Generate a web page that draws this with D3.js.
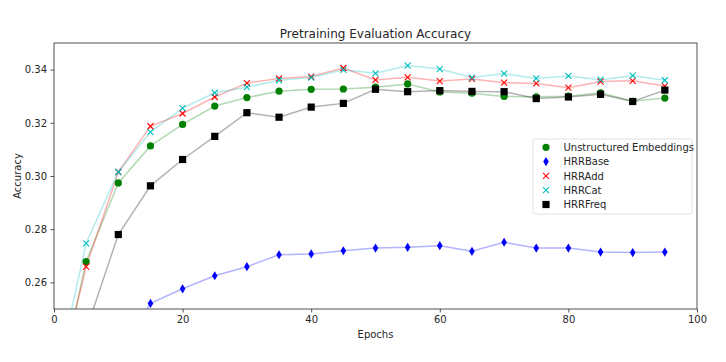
<!DOCTYPE html>
<html>
<head>
<meta charset="utf-8">
<script src="https://cdn.jsdelivr.net/npm/d3@7"></script>
<style>
  body { margin: 0; background: #fff; }
  text { font-family: "DejaVu Sans", sans-serif; fill: #262626; }
</style>
</head>
<body>
<svg id="chart" width="726" height="362"></svg>
<script>
// epochs (0 is below the visible range for every series)
var epochs = [0, 5, 10, 15, 20, 25, 30, 35, 40, 45, 50, 55, 60, 65, 70, 75, 80, 85, 90, 95];

var unstructured = [0.213, 0.2678, 0.2974, 0.3113, 0.3194, 0.3263, 0.3295, 0.3319, 0.3326, 0.3327,
                    0.3334, 0.3346, 0.3316, 0.3311, 0.3299, 0.3298, 0.3300, 0.3313, 0.3281, 0.3293];
var hrrBase = [0.195, 0.212, 0.232, 0.2521, 0.2576, 0.2625, 0.2659, 0.2704, 0.2707, 0.2719,
               0.2729, 0.2732, 0.2738, 0.2717, 0.2751, 0.2729, 0.2729, 0.2714, 0.2712, 0.2714];
var hrrAdd = [0.216, 0.2659, 0.3015, 0.3187, 0.3235, 0.3297, 0.3349, 0.3367, 0.3374, 0.3406,
              0.3361, 0.3371, 0.3357, 0.3365, 0.3351, 0.3348, 0.3332, 0.3355, 0.3358, 0.3338];
var hrrCat = [0.220, 0.2747, 0.3015, 0.3165, 0.3255, 0.3313, 0.3334, 0.3360, 0.3370, 0.3399,
              0.3386, 0.3415, 0.3402, 0.3370, 0.3385, 0.3367, 0.3376, 0.3362, 0.3377, 0.3360];
var hrrFreq = [0.205, 0.242, 0.2780, 0.2963, 0.3062, 0.3149, 0.3238, 0.3221, 0.3259, 0.3273,
               0.3326, 0.3317, 0.3321, 0.3318, 0.3317, 0.3291, 0.3297, 0.3307, 0.3280, 0.3323];

var xTicks = [0, 20, 40, 60, 80, 100];
var yTicks = [0.26, 0.28, 0.30, 0.32, 0.34];

var series = [
  {name: "Unstructured Embeddings", values: unstructured, color: "green", marker: "circle"},
  {name: "HRRBase", values: hrrBase, color: "blue", marker: "diamond"},
  {name: "HRRAdd", values: hrrAdd, color: "red", marker: "x"},
  {name: "HRRCat", values: hrrCat, color: "#00bfbf", marker: "x"},
  {name: "HRRFreq", values: hrrFreq, color: "black", marker: "square"}
];

var svg = d3.select("#chart");
var margin = {left: 54, right: 29, top: 43, bottom: 53};
var width = 726 - margin.left - margin.right;
var height = 362 - margin.top - margin.bottom;

var x = d3.scaleLinear().domain([0, 100]).range([0, width]);
var y = d3.scaleLinear().domain([0.25, 0.35]).range([height, 0]);

svg.append("defs").append("clipPath").attr("id", "clip")
  .append("rect").attr("width", width).attr("height", height);

var g = svg.append("g").attr("transform", "translate(" + margin.left + "," + margin.top + ")");

// axes
var xAxis = g.append("g").attr("transform", "translate(0," + height + ")")
  .call(d3.axisBottom(x).tickValues(xTicks).tickSize(3.5).tickPadding(3.5));
var yAxis = g.append("g")
  .call(d3.axisLeft(y).tickValues(yTicks).tickSize(3.5).tickPadding(3.5).tickFormat(d3.format(".2f")));
[xAxis, yAxis].forEach(function(a) {
  a.selectAll("text").style("font-size", "10px").style("font-family", "DejaVu Sans");
  a.selectAll("line").attr("stroke", "#262626").attr("stroke-width", 0.8);
  a.select(".domain").remove();
});

// frame
g.append("rect").attr("width", width).attr("height", height)
  .attr("fill", "none").attr("stroke", "#262626").attr("stroke-width", 0.8);

var plot = g.append("g").attr("clip-path", "url(#clip)");

var line = d3.line()
  .x(function(d, i) { return x(epochs[i]); })
  .y(function(d) { return y(d); });

series.forEach(function(s) {
  plot.append("path")
    .attr("d", line(s.values))
    .attr("fill", "none")
    .attr("stroke", s.color)
    .attr("stroke-opacity", 0.3)
    .attr("stroke-width", 1.5);
});

function drawMarker(sel, s, cx, cy) {
  if (s.marker == "circle") {
    sel.append("circle").attr("cx", cx).attr("cy", cy).attr("r", 3.6).attr("fill", s.color);
  } else if (s.marker == "diamond") {
    sel.append("path")
      .attr("d", "M" + cx + "," + (cy - 4.6) + "L" + (cx + 2.8) + "," + cy + "L" + cx + "," + (cy + 4.6) + "L" + (cx - 2.8) + "," + cy + "Z")
      .attr("fill", s.color);
  } else if (s.marker == "square") {
    sel.append("rect").attr("x", cx - 3.6).attr("y", cy - 3.6).attr("width", 7.2).attr("height", 7.2).attr("fill", s.color);
  } else {
    var r = 3;
    sel.append("path")
      .attr("d", "M" + (cx - r) + "," + (cy - r) + "L" + (cx + r) + "," + (cy + r) + "M" + (cx - r) + "," + (cy + r) + "L" + (cx + r) + "," + (cy - r))
      .attr("stroke", s.color).attr("stroke-width", 1.1).attr("fill", "none");
  }
}

series.forEach(function(s) {
  var mg = plot.append("g");
  s.values.forEach(function(v, i) {
    drawMarker(mg, s, x(epochs[i]), y(v));
  });
});

// titles
svg.append("text").attr("x", margin.left + width / 2).attr("y", 38)
  .attr("text-anchor", "middle").style("font-size", "12px")
  .text("Pretraining Evaluation Accuracy");
svg.append("text").attr("x", margin.left + width / 2).attr("y", 338)
  .attr("text-anchor", "middle").style("font-size", "10px")
  .text("Epochs");
svg.append("text").attr("transform", "translate(21," + (margin.top + height / 2) + ") rotate(-90)")
  .attr("text-anchor", "middle").style("font-size", "10px")
  .text("Accuracy");

// legend
var lg = svg.append("g").attr("transform", "translate(533,139)");
lg.append("rect").attr("width", 159).attr("height", 75).attr("rx", 2)
  .attr("fill", "#fff").attr("fill-opacity", 0.8).attr("stroke", "#d9d9d9").attr("stroke-width", 0.8);
series.forEach(function(s, i) {
  var row = lg.append("g");
  drawMarker(row, s, 13, 8.3 + i * 14.3);
  row.append("text").attr("x", 30.5).attr("y", 8.3 + i * 14.3 + 3.6)
    .style("font-size", "10px").text(s.name);
});
</script>
</body>
</html>
